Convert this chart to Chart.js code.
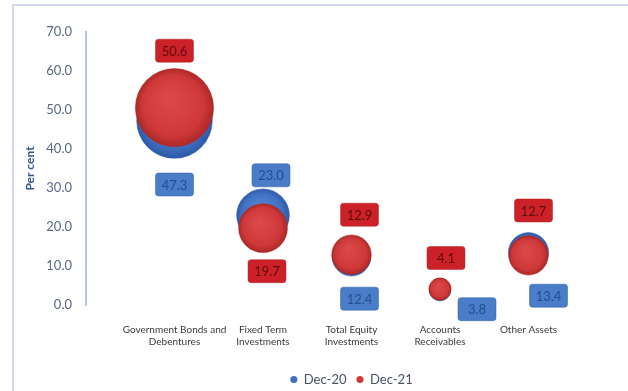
<!DOCTYPE html>
<html>
<head>
<meta charset="utf-8">
<script src="https://cdn.jsdelivr.net/npm/chart.js@4.4.1/dist/chart.umd.min.js"></script>
<style>
  html, body { margin: 0; padding: 0; background: #fff; }
  #wrap { position: relative; width: 628px; height: 391px; }
  #frame {
    position: absolute; left: 12px; top: 4px; right: 0; bottom: 0;
    border-top: 2px solid #d3daee; border-left: 2px solid #d3daee;
    pointer-events: none;
  }
  #myChart { position: absolute; left: 0; top: 0; }
</style>
</head>
<body>
<div id="wrap">
  <div id="frame"></div>
  <canvas id="myChart" width="628" height="391"></canvas>
</div>
<script>
const categories = [
  ['Government Bonds and', 'Debentures'],
  ['Fixed Term', 'Investments'],
  ['Total Equity', 'Investments'],
  ['Accounts', 'Receivables'],
  'Other Assets'
];
const dec20 = [47.3, 23.0, 12.4, 3.8, 13.4];
const dec21 = [50.6, 19.7, 12.9, 4.1, 12.7];
const yTicks = [0, 10, 20, 30, 40, 50, 60, 70];

// where each value box sits relative to its bubble (px)
const boxOffsets = {
  'Dec-20': [[0, 64], [8, -40], [8, 42], [37, 19], [20, 43]],
  'Dec-21': [[0, -57], [4, 43], [8, -40], [6, -31], [5, -45]]
};

const colors = {
  'Dec-20': { fill: '#3f6fc0', light: '#5686d2', dark: '#2d5aa6', box: '#4a7dc8', text: '#234e8e' },
  'Dec-21': { fill: '#cf3838', light: '#db4848', dark: '#ad2828', box: '#cc2128', text: '#5e0c0c' }
};

const bubbleSize = v => 5.5 * Math.sqrt(v);

function bubbleFill(name) {
  return (c) => {
    const col = colors[name];
    if (c.type !== 'data') return col.fill;
    const chart = c.chart;
    const px = chart.scales.x.getPixelForValue(c.raw.x);
    const py = chart.scales.y.getPixelForValue(c.raw.y);
    if (!isFinite(px) || !isFinite(py)) return col.fill;
    const r = bubbleSize(c.raw.y);
    const g = chart.ctx.createRadialGradient(px - r * 0.15, py - r * 0.25, r * 0.1, px, py, r);
    g.addColorStop(0, col.light);
    g.addColorStop(0.75, col.fill);
    g.addColorStop(1, col.dark);
    return g;
  };
}

function makeDataset(name, values, order) {
  return {
    label: name,
    data: values.map((v, i) => ({ x: i, y: v })),
    backgroundColor: bubbleFill(name),
    borderColor: colors[name].dark,
    borderWidth: 0.5,
    radius: c => bubbleSize(c.raw.y),
    order: order,
    clip: false
  };
}

// value boxes next to the bubbles
const valueBoxes = {
  id: 'valueBoxes',
  afterDatasetsDraw(chart) {
    const ctx = chart.ctx;
    chart.data.datasets.forEach((ds, di) => {
      const meta = chart.getDatasetMeta(di);
      const col = colors[ds.label];
      meta.data.forEach((pt, i) => {
        const off = boxOffsets[ds.label][i];
        const cx = pt.x + off[0];
        const cy = pt.y + off[1];
        const w = 38, h = 23;
        ctx.save();
        ctx.fillStyle = col.box;
        ctx.strokeStyle = col.dark;
        ctx.lineWidth = 0.5;
        ctx.beginPath();
        ctx.roundRect(cx - w / 2, cy - h / 2, w, h, 3);
        ctx.fill();
        ctx.stroke();
        ctx.fillStyle = col.text;
        ctx.font = '13px Lato';
        ctx.textAlign = 'center';
        ctx.textBaseline = 'middle';
        ctx.fillText(ds.data[i].y.toFixed(1), cx, cy + 1);
        ctx.restore();
      });
    });
  }
};

const ctx = document.getElementById('myChart').getContext('2d');
const chart = new Chart(ctx, {
  type: 'bubble',
  data: {
    datasets: [
      makeDataset('Dec-20', dec20, 1),
      makeDataset('Dec-21', dec21, 0)
    ]
  },
  plugins: [valueBoxes],
  options: {
    responsive: false,
    animation: false,
    events: [],
    layout: { autoPadding: false, padding: { left: 12, right: 11, top: 32, bottom: -5 } },
    scales: {
      x: {
        type: 'linear',
        min: -1,
        max: 5,
        grid: { display: false, drawTicks: false },
        border: { display: false },
        afterBuildTicks: axis => { axis.ticks = categories.map((_, i) => ({ value: i })); },
        afterFit: scale => {
          scale.height = 58;
          scale.paddingLeft = 0;
          scale.paddingRight = 0;
        },
        ticks: {
          autoSkip: false,
          maxRotation: 0,
          padding: 19,
          color: '#3a3a3a',
          font: { family: 'Lato', size: 10, lineHeight: 1.2 },
          callback: v => categories[v]
        }
      },
      y: {
        min: 0,
        max: 70,
        grid: { display: false, drawTicks: false },
        border: { display: true, color: '#b7c7e3', width: 2 },
        afterBuildTicks: axis => { axis.ticks = yTicks.map(v => ({ value: v })); },
        afterFit: scale => {
          scale.width = 74;
          scale.paddingTop = 0;
          scale.paddingBottom = 0;
        },
        title: {
          display: true,
          text: 'Per cent',
          color: '#2f558f',
          padding: { top: 11, bottom: 0 },
          font: { family: 'Lato', size: 12, weight: 'bold' }
        },
        ticks: {
          padding: 14,
          color: '#5b6784',
          font: { family: 'Lato', size: 13 },
          callback: v => v.toFixed(1)
        }
      }
    },
    plugins: {
      tooltip: { enabled: false },
      legend: {
        position: 'bottom',
        fullSize: false,
        labels: {
          usePointStyle: true,
          boxWidth: 7,
          boxHeight: 5,
          padding: 10,
          color: '#44546a',
          font: { family: 'Lato', size: 13 },
          generateLabels: ch => ch.data.datasets.map((ds, i) => ({
            text: ds.label,
            fillStyle: colors[ds.label].fill,
            strokeStyle: colors[ds.label].fill,
            lineWidth: 0,
            pointStyle: 'circle',
            fontColor: '#44546a',
            datasetIndex: i
          }))
        }
      }
    }
  }
});
</script>
</body>
</html>
